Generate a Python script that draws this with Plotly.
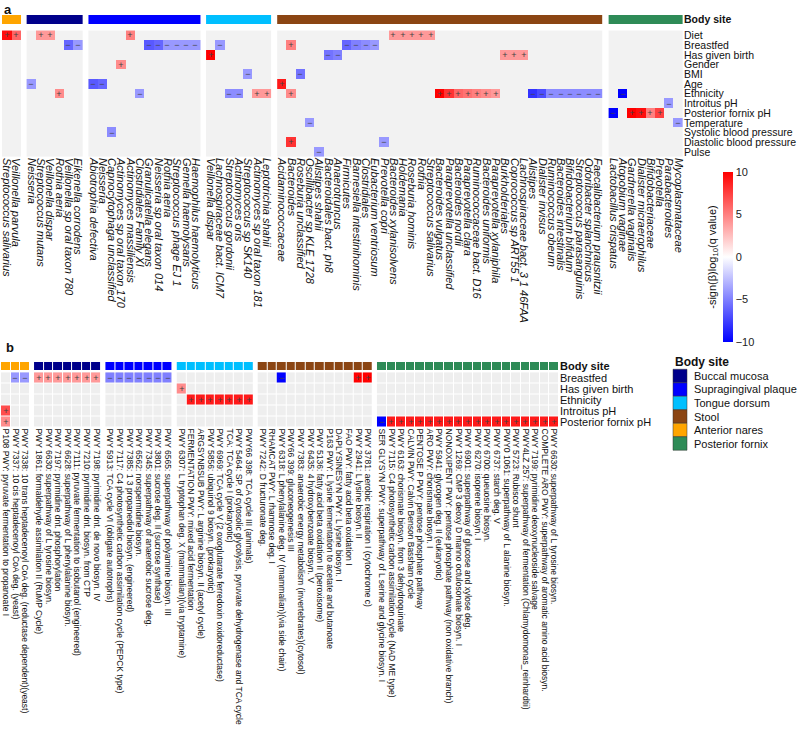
import plotly.graph_objects as go

W, H = 800, 746

site_colors = {
    "Anterior nares": "#FFA500",
    "Buccal mucosa": "#00008B",
    "Supragingival plaque": "#0000FF",
    "Tongue dorsum": "#00BFFF",
    "Stool": "#8B4513",
    "Posterior fornix": "#2E8B57",
}
legend_order = ["Buccal mucosa", "Supragingival plaque", "Tongue dorsum",
                "Stool", "Anterior nares", "Posterior fornix"]

# ---------------- panel a: species ----------------
rows_a = ["Diet", "Breastfed", "Has given birth", "Gender", "BMI", "Age", "Ethnicity",
          "Introitus pH", "Posterior fornix pH", "Temperature",
          "Systolic blood pressure", "Diastolic blood pressure", "Pulse"]

species_anterior_nares = ["Streptococcus salivarius", "Veillonella parvula"]
species_buccal = ["Neisseria", "Streptococcus mutans", "Veillonella dispar", "Rothia aeria",
                  "Veillonella sp oral taxon 780", "Eikenella corrodens"]
species_plaque = ["Abiotrophia defectiva", "Neisseria", "Capnocytophaga unclassified",
                  "Actinomyces sp oral taxon 170", "Actinomyces massiliensis",
                  "Clostridiales Family XI", "Granulicatella elegans",
                  "Neisseria sp oral taxon 014", "Rothia aeria", "Streptococcus phage EJ 1",
                  "Gemella haemolysans", "Haemophilus haemolyticus"]
species_tongue = ["Veillonella dispar", "Lachnospiraceae bact. ICM7", "Streptococcus gordonii",
                  "Actinomyces oris", "Streptococcus sp SK140", "Actinomyces sp oral taxon 181",
                  "Leptotrichia shahii"]
species_stool = ["Acidaminococcaceae", "Bacteroides", "Roseburia unclassified",
                 "Oscillibacter sp KLE 1728", "Alistipes shahii", "Bacteroidales bact. ph8",
                 "Anaerotruncus", "Firmicutes", "Barnesiella intestinihominis", "Clostridiales",
                 "Eubacterium ventriosum", "Prevotella copri", "Bacteroides xylanisolvens",
                 "Holdemania", "Roseburia hominis", "Rothia", "Streptococcus salivarius",
                 "Bacteroides vulgatus", "Paraprevotella unclassified", "Bacteroides nordii",
                 "Paraprevotella clara", "Ruminococcaceae bact. D16", "Bacteroides uniformis",
                 "Paraprevotella xylaniphila", "Burkholderiales", "Coprococcus sp ART55 1",
                 "Lachnospiraceae bact. 3 1 46FAA", "Alistipes", "Dialister invisus",
                 "Ruminococcus obeum", "Bacteroides intestinalis", "Bifidobacterium bifidum",
                 "Streptococcus parasanguinis", "Odoribacter splanchnicus",
                 "Faecalibacterium prausnitzii"]
species_fornix = ["Lactobacillus crispatus", "Atopobium vaginae", "Gardnerella vaginalis",
                  "Dialister micraerophilus", "Bifidobacteriaceae", "Prevotella",
                  "Parabacteroides", "Mycoplasmataceae"]

# significant cells: (metadata row, column index in block, -sign(beta)log10(q))
sig_a_anterior_nares = [("Diet", 0, 9.5), ("Diet", 1, 6.0)]
sig_a_buccal = [("Diet", 1, 4.0), ("Diet", 2, 4.0), ("Breastfed", 4, -6.0), ("Breastfed", 5, -4.0),
                ("Age", 0, -4.0), ("Ethnicity", 3, 4.5)]
sig_a_plaque = [("Diet", 4, 5.0), ("Breastfed", 6, -6.5), ("Breastfed", 7, -6.0),
                ("Breastfed", 8, -4.0), ("Breastfed", 9, -4.0), ("Breastfed", 10, -4.0),
                ("Breastfed", 11, -4.0), ("Gender", 3, 4.5), ("Age", 0, -6.5), ("Age", 1, -6.0),
                ("Ethnicity", 5, -4.0), ("Systolic blood pressure", 2, -4.5)]
sig_a_tongue = [("Breastfed", 1, -4.0), ("Has given birth", 0, 10.0), ("BMI", 4, -4.0),
                ("Ethnicity", 2, -4.5), ("Ethnicity", 3, -4.5), ("Ethnicity", 5, 4.0),
                ("Ethnicity", 6, 4.0)]
sig_a_stool = [("Diet", 12, 4.0), ("Diet", 13, 4.0), ("Diet", 14, 4.0), ("Diet", 15, 4.0),
               ("Diet", 16, 4.0), ("Breastfed", 1, 5.0), ("Breastfed", 7, -6.0),
               ("Breastfed", 8, -5.0), ("Breastfed", 9, -4.5), ("Breastfed", 10, -4.0),
               ("Has given birth", 5, -5.5), ("Has given birth", 6, -5.0),
               ("Has given birth", 24, 4.0), ("Has given birth", 25, 4.0),
               ("Has given birth", 26, 4.0), ("BMI", 2, -5.5), ("Age", 0, 9.0),
               ("Ethnicity", 1, 4.5), ("Ethnicity", 17, 10.0), ("Ethnicity", 18, 8.0),
               ("Ethnicity", 19, 6.0), ("Ethnicity", 20, 5.5), ("Ethnicity", 21, 5.0),
               ("Ethnicity", 22, 4.5), ("Ethnicity", 23, 4.0), ("Ethnicity", 27, -8.0),
               ("Ethnicity", 28, -7.0), ("Ethnicity", 29, -4.5), ("Ethnicity", 30, -4.5),
               ("Ethnicity", 31, -4.5), ("Ethnicity", 32, -4.5), ("Ethnicity", 33, -4.5),
               ("Ethnicity", 34, -4.5), ("Temperature", 3, -4.0),
               ("Diastolic blood pressure", 1, 8.0), ("Diastolic blood pressure", 11, -4.0),
               ("Pulse", 4, -4.0)]
sig_a_fornix = [("Ethnicity", 1, -10.0), ("Introitus pH", 6, -4.0),
                ("Posterior fornix pH", 0, -10.0), ("Posterior fornix pH", 2, 10.0),
                ("Posterior fornix pH", 3, 9.5), ("Posterior fornix pH", 4, 5.0),
                ("Posterior fornix pH", 5, 7.5), ("Temperature", 7, -4.0)]

# ---------------- panel b: pathways ----------------
rows_b = ["Breastfed", "Has given birth", "Ethnicity", "Introitus pH", "Posterior fornix pH"]

pw_anterior_nares = ["P108 PWY: pyruvate fermentation to propanoate I",
                     "PWY 7337: 10 cis heptadecenoyl CoA deg. (yeast)",
                     "PWY 7338: 10 trans heptadecenoyl CoA deg. (reductase dependent)(yeast)"]
pw_buccal = ["PWY 1861: formaldehyde assimilation II (RuMP Cycle)",
             "PWY 6630: superpathway of L tyrosine biosyn.",
             "PWY 7197: pyrimidine dnt. phosphorylation",
             "PWY 6628: superpathway of L phenylalanine biosyn.",
             "PWY 7111: pyruvate fermentation to isobutanol (engineered)",
             "PWY 7210: pyrimidine dnt. biosyn. from CTP",
             "PWY 7198: pyrimidine dnt. de novo biosyn. IV"]
pw_plaque = ["PWY 5913: TCA cycle VI (obligate autotrophs)",
             "PWY 7117: C4 photosynthetic carbon assimilation cycle (PEPCK type)",
             "PWY 7385: 1 3 propanediol biosyn. (engineered)",
             "PWY 6562: norspermidine biosyn.",
             "PWY 7345: superpathway of anaerobic sucrose deg.",
             "PWY 3801: sucrose deg. II (sucrose synthase)",
             "PWY 6565: superpathway of polyamine biosyn. III"]
pw_tongue = ["PWY 6307: L tryptophan deg. X (mammalian)(via tryptamine)",
             "FERMENTATION PWY: mixed acid fermentation",
             "ARGSYNBSUB PWY: L arginine biosyn. II (acetyl cycle)",
             "PWY 5856: ubiquinol 9 biosyn. (prokaryotic)",
             "PWY 6969: TCA cycle V (2 oxoglutarate ferredoxin oxidoreductase)",
             "TCA: TCA cycle I (prokaryotic)",
             "PWY 5464: SP. of cytosolic glycolysis, pyruvate dehydrogenase and TCA cycle",
             "PWY66 398: TCA cycle III (animals)"]
pw_stool = ["PWY 7242: D fructuronate deg.",
            "RHAMCAT PWY: L rhamnose deg. I",
            "PWY 6318: L phenylalanine deg. IV (mammalian)(via side chain)",
            "PWY66 399: gluconeogenesis III",
            "PWY 7383: anaerobic energy metabolism (invertebrates)(cytosol)",
            "PWY 6435: 4 hydroxybenzoate biosyn. V",
            "PWY 5136: fatty acid beta oxidation II (peroxisome)",
            "P163 PWY: L lysine fermentation to acetate and butanoate",
            "DAPLYSINESYN PWY: L lysine biosyn. I",
            "FAO PWY: fatty acid beta oxidation I",
            "PWY 2941: L lysine biosyn. II",
            "PWY 3781: aerobic respiration I (cytochrome c)"]
pw_fornix = ["SER GLYSYN PWY: superpathway of L serine and glycine biosyn. I",
             "PWY 7115: C4 photosynthetic carbon assimilation cycle (NAD ME type)",
             "PWY 6163: chorismate biosyn. from 3 dehydroquinate",
             "CALVIN PWY: Calvin Benson Bassham cycle",
             "PENTOSE P PWY: pentose phosphate pathway",
             "ARO PWY: chorismate biosyn. I",
             "PWY 5941: glycogen deg. II (eukaryotic)",
             "NONOXIPENT PWY: pentose phosphate pathway (non oxidative branch)",
             "PWY 1269: CMP 3 deoxy D manno octulosonate biosyn. I",
             "PWY 6901: superpathway of glucose and xylose deg.",
             "PWY 6270: isoprene biosyn. I",
             "PWY 6700: queuosine biosyn.",
             "PWY 6737: starch deg. V",
             "PWY0 1061: superpathway of L alanine biosyn.",
             "PWY 5723: Rubisco shunt",
             "PWY4LZ 257: superpathway of fermentation (Chlamydomonas_reinhardtii)",
             "PWY 7199: pyrimidine deoxynucleoside salvage",
             "COMPLETE ARO PWY: superpathway of aromatic amino acid biosyn.",
             "PWY 6630: superpathway of L tyrosine biosyn."]

sig_b_anterior_nares = [("Breastfed", 1, -4.0), ("Breastfed", 2, -4.0),
                        ("Introitus pH", 0, 7.0), ("Posterior fornix pH", 0, 4.5)]
sig_b_buccal = [("Breastfed", i, 4.0) for i in range(7)]
sig_b_plaque = [("Breastfed", i, -5.0) for i in range(7)]
sig_b_tongue = [("Has given birth", 0, 4.5)] + [("Ethnicity", i, 9.0) for i in range(1, 8)]
sig_b_stool = [("Breastfed", 2, -10.0), ("Breastfed", 10, 10.0), ("Breastfed", 11, 10.0)]
sig_b_fornix = [("Posterior fornix pH", 0, -10.0)] + \
               [("Posterior fornix pH", i, 9.0) for i in range(1, 19)]

blocks_a = [("Anterior nares", species_anterior_nares, sig_a_anterior_nares),
            ("Buccal mucosa", species_buccal, sig_a_buccal),
            ("Supragingival plaque", species_plaque, sig_a_plaque),
            ("Tongue dorsum", species_tongue, sig_a_tongue),
            ("Stool", species_stool, sig_a_stool),
            ("Posterior fornix", species_fornix, sig_a_fornix)]
blocks_b = [("Anterior nares", pw_anterior_nares, sig_b_anterior_nares),
            ("Buccal mucosa", pw_buccal, sig_b_buccal),
            ("Supragingival plaque", pw_plaque, sig_b_plaque),
            ("Tongue dorsum", pw_tongue, sig_b_tongue),
            ("Stool", pw_stool, sig_b_stool),
            ("Posterior fornix", pw_fornix, sig_b_fornix)]

FONT = "Liberation Sans, Arial, sans-serif"
scale = [[0, "#0000FF"], [0.5, "#FFFFFF"], [1, "#FF0000"]]
fig = go.Figure()


def add_panel(blocks, rows, xa, ya, gap, bar_edges, cgap, bg, show_scale):
    centers, labels = [], []
    offset = 0
    yedges = [i - 0.5 for i in range(len(rows) + 1)]
    for k, (site, cols, cells) in enumerate(blocks):
        n = len(cols)
        xedges = [offset - 0.5 + j for j in range(n + 1)]
        fig.add_trace(go.Heatmap(x=xedges, y=yedges, z=[[0] * n for _ in rows],
                                 colorscale=[[0, bg], [1, bg]], zmin=0, zmax=1,
                                 showscale=False, xgap=cgap, ygap=cgap, hoverinfo="skip",
                                 xaxis=xa, yaxis=ya))
        z = [[None] * n for _ in rows]
        txt = [[""] * n for _ in rows]
        for r, c, v in cells:
            i = rows.index(r)
            z[i][c] = v
            txt[i][c] = "+" if v > 0 else "−"
        fig.add_trace(go.Heatmap(x=xedges, y=yedges, z=z, text=txt, texttemplate="%{text}",
                                 textfont=dict(size=9, color="#444444", family=FONT),
                                 colorscale=scale, zmin=-10, zmax=10,
                                 showscale=show_scale and k == 0, xgap=cgap, ygap=cgap,
                                 colorbar=dict(x=723 / W, xanchor="left", xpad=0,
                                               y=1 - 257 / H, yanchor="middle", ypad=0,
                                               len=170 / H, thickness=10,
                                               outlinewidth=0, ticks="",
                                               tickvals=[-10, -5, 0, 5, 10],
                                               tickfont=dict(size=11, family=FONT, color="#222")),
                                 xaxis=xa, yaxis=ya))
        col = site_colors[site]
        fig.add_trace(go.Heatmap(x=xedges, y=bar_edges, z=[[0] * n],
                                 colorscale=[[0, col], [1, col]], zmin=0, zmax=1,
                                 showscale=False, xgap=cgap, hoverinfo="skip",
                                 xaxis=xa, yaxis=ya))
        centers += [offset + j for j in range(n)]
        labels += cols
        offset += n + gap
    return centers, labels


cen_a, lab_a = add_panel(blocks_a, rows_a, "x", "y", 0.65, [-2.1, -1.16], 0, "#F2F2F2", True)
cen_b, lab_b = add_panel(blocks_b, rows_b, "x2", "y2", 0.45, [-1.45, -0.73], 1, "#EEEEEE", False)

# empty helper axis that carries the colour bar title on its left side
fig.add_trace(go.Scatter(x=[], y=[], xaxis="x3", yaxis="y3", showlegend=False))

axis_common = dict(showgrid=False, zeroline=False, showline=False, ticks="", ticklen=0)
fig.update_layout(
    width=W, height=H, margin=dict(l=0, r=0, t=0, b=0),
    paper_bgcolor="white", plot_bgcolor="white", font=dict(family=FONT, color="#111"),
    xaxis=dict(domain=[2 / W, 683 / W], range=[cen_a[0] - 0.5, cen_a[-1] + 0.5],
               tickvals=cen_a, ticktext=lab_a, tickangle=90, anchor="y", automargin=False,
               tickfont=dict(size=11, style="italic", family=FONT), **axis_common),
    yaxis=dict(domain=[1 - 157 / H, 1 - 15 / H], range=[12.5, -2.1], side="right",
               anchor="x", automargin=False,
               tickvals=[-1.63] + list(range(len(rows_a))),
               ticktext=["<b>Body site</b>"] + rows_a,
               tickfont=dict(size=10.5, family=FONT), **axis_common),
    xaxis2=dict(domain=[1 / W, 559 / W], range=[cen_b[0] - 0.5, cen_b[-1] + 0.5],
                tickvals=cen_b, ticktext=lab_b, tickangle=90, anchor="y2", automargin=False,
                tickfont=dict(size=8.5, family=FONT), **axis_common),
    yaxis2=dict(domain=[1 - 427.5 / H, 1 - 362 / H], range=[4.5, -1.45], side="right",
                anchor="x2", automargin=False,
                tickvals=[-1.09] + list(range(len(rows_b))),
                ticktext=["<b>Body site</b>"] + rows_b,
                tickfont=dict(size=11, family=FONT), **axis_common),
    xaxis3=dict(domain=[723 / W, 733 / W], visible=False, anchor="y3"),
    yaxis3=dict(domain=[1 - 342 / H, 1 - 172 / H], anchor="free", position=723 / W,
                side="left", showticklabels=False, automargin=False,
                title=dict(text="-sign(β)log<sub>10</sub>(q value)", standoff=3,
                           font=dict(size=11, family=FONT)), **axis_common),
)

ann = [
    dict(text="<b>a</b>", x=2 / W, y=1 - 0 / H, xanchor="left", yanchor="top",
         font=dict(size=13)),
    dict(text="<b>b</b>", x=4 / W, y=1 - 338 / H, xanchor="left", yanchor="top",
         font=dict(size=13)),
    dict(text="<b>Body site</b>", x=673 / W, y=1 - 362 / H, xanchor="left",
         yanchor="middle", font=dict(size=12)),
]
shapes = []
for i, site in enumerate(legend_order):
    yc = 376 + 13.5 * i
    shapes.append(dict(type="rect", xref="paper", yref="paper", x0=673 / W, x1=687 / W,
                       y0=1 - (yc + 6.75) / H, y1=1 - (yc - 6.75) / H,
                       fillcolor=site_colors[site], line=dict(width=0.5, color="#333")))
    ann.append(dict(text=site, x=692 / W, y=1 - yc / H, xanchor="left", yanchor="middle",
                    font=dict(size=11)))
for a in ann:
    a.update(xref="paper", yref="paper", showarrow=False)
fig.update_layout(annotations=ann, shapes=shapes)

fig.write_html("out.html", config={"displayModeBar": False},
               post_script="document.body.style.margin='0px';")
